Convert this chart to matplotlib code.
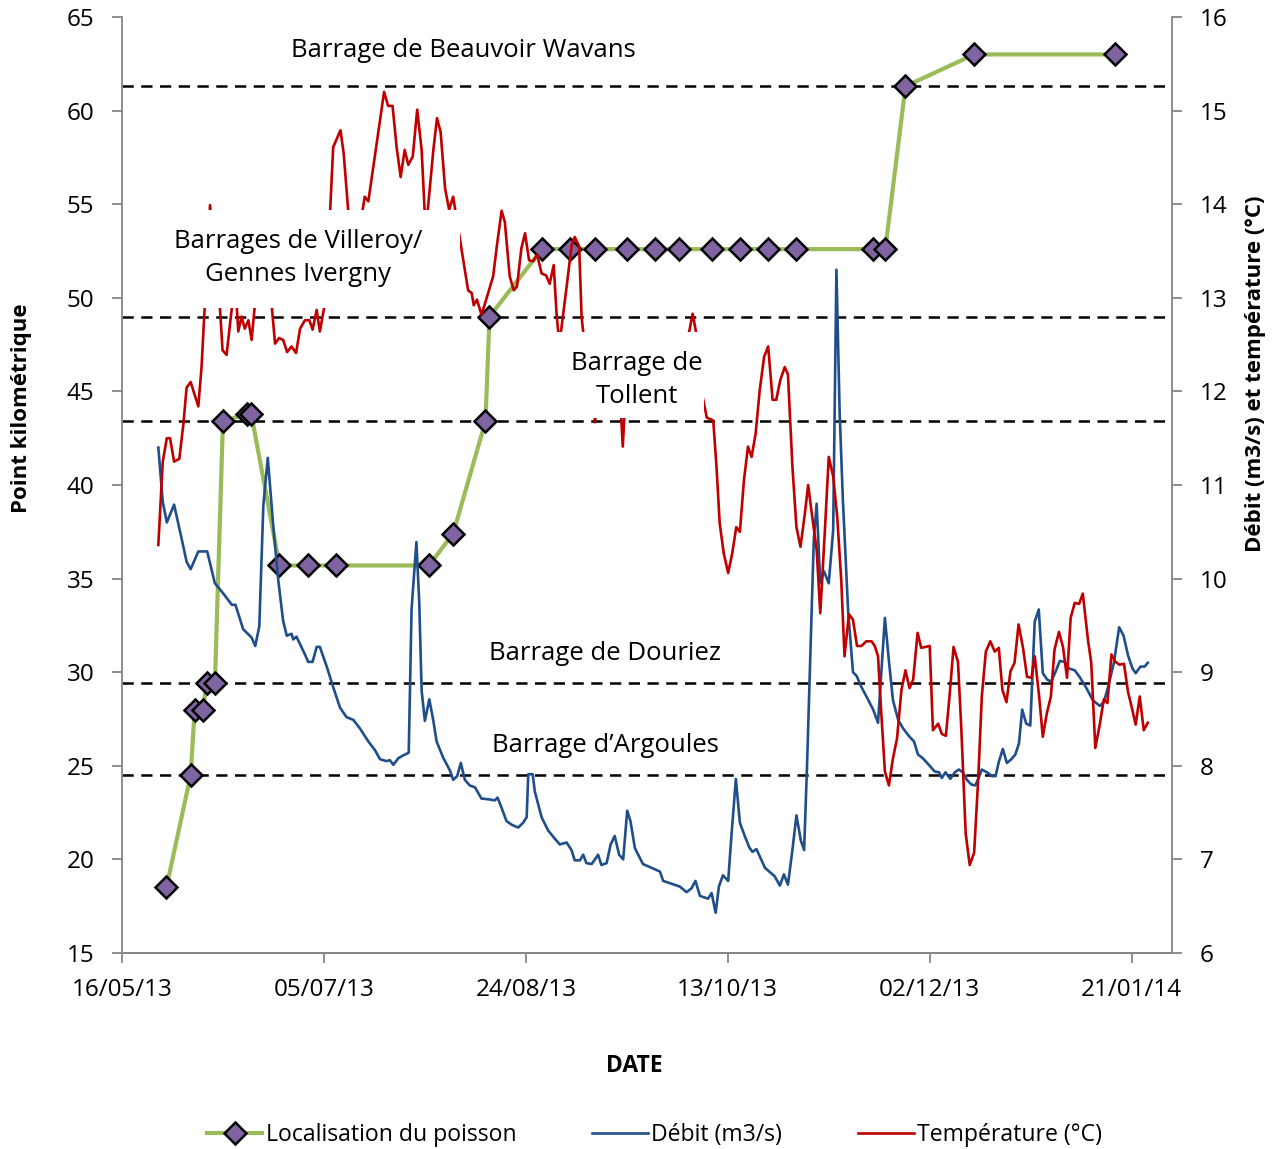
import matplotlib
matplotlib.use("Agg")
import matplotlib.pyplot as plt
import matplotlib.dates as mdates
from matplotlib.lines import Line2D
from matplotlib.patches import Rectangle
import numpy as np

plt.rcParams["font.family"] = ["Open Sans", "DejaVu Sans"]

START = "2013-05-16"

# fish position (point kilométrique)
fish_dates = [
    "2013-05-27", "2013-06-02", "2013-06-03", "2013-06-05", "2013-06-06", "2013-06-08",
    "2013-06-10", "2013-06-16", "2013-06-17", "2013-06-24", "2013-07-01", "2013-07-08",
    "2013-07-31", "2013-08-06", "2013-08-14", "2013-08-15", "2013-08-28", "2013-09-04",
    "2013-09-10", "2013-09-18", "2013-09-25", "2013-10-01", "2013-10-09", "2013-10-16",
    "2013-10-23", "2013-10-30", "2013-11-18", "2013-11-21", "2013-11-26", "2013-12-13",
    "2014-01-17",
]
fish_pk = [
    18.5, 24.5, 28.0, 28.0, 29.4, 29.4,
    43.4, 43.8, 43.8, 35.7, 35.7, 35.7,
    35.7, 37.4, 43.4, 49.0, 52.6, 52.6,
    52.6, 52.6, 52.6, 52.6, 52.6, 52.6,
    52.6, 52.6, 52.6, 52.6, 61.3, 63.0,
    63.0,
]

# flow (m3/s), days counted from 16/05/2013
debit_day = [
    9.0, 10.1, 11.1, 12.9, 14.8, 16.0, 17.0, 18.9, 21.1, 23.0, 25.1, 27.2, 28.1, 30.0,
    32.1, 33.0, 34.0, 35.0, 36.1, 37.5, 38.7, 39.9, 40.8, 42.0, 42.4, 43.2, 45.3, 46.1,
    47.2, 48.2, 49.0, 50.7, 52.3, 54.0, 55.6, 57.3, 58.9, 61.0, 62.6, 63.9, 65.5, 66.3,
    67.2, 68.4, 69.6, 71.0, 71.7, 72.9, 73.6, 74.2, 75.0, 76.1, 77.1, 77.9, 79.5, 81.2,
    82.0, 83.0, 83.9, 84.9, 86.1, 87.4, 89.0, 91.1, 92.3, 93.0, 94.0, 95.2, 96.5, 98.1,
    99.3, 100.2, 100.6, 101.7, 102.2, 103.9, 105.5, 107.2, 108.4, 110.1, 111.3, 112.1,
    113.4, 114.2, 115.0, 116.3, 117.9, 118.7, 120.0, 121.0, 122.0, 123.1, 124.1, 125.1,
    125.9, 127.0, 129.0, 133.2, 134.0, 138.1, 139.8, 141.0, 142.0, 143.1, 145.1, 146.0,
    147.0, 147.8, 148.8, 150.1, 150.9, 152.0, 153.0, 154.2, 155.3, 156.1, 157.1, 159.2,
    161.6, 162.9, 163.9, 164.9, 166.0, 167.0, 168.1, 168.9, 169.6, 170.5, 171.3, 172.0,
    172.9, 173.8, 175.0, 176.1, 176.9, 177.7, 178.5, 179.8, 181.0, 181.9, 183.1, 184.7,
    186.0, 187.2, 188.9, 189.9, 190.9, 192.2, 193.4, 195.0, 196.1, 197.1, 198.3, 200.0,
    201.2, 202.3, 203.0, 203.9, 205.1, 206.2, 207.2, 208.2, 209.2, 210.3, 211.3, 212.1,
    212.9, 214.2, 215.4, 216.3, 217.1, 218.1, 219.1, 220.2, 221.2, 222.1, 222.9, 223.9,
    224.9, 226.0, 227.0, 228.0, 229.1, 230.1, 231.2, 232.2, 233.4, 234.5, 235.9, 237.1,
    238.8, 240.4, 242.1, 243.1, 244.1, 245.6, 246.9, 248.0, 249.1, 250.2, 251.0, 252.2,
    253.2, 254.0,
]
debit = [
    11.40, 10.82, 10.60, 10.79, 10.42, 10.18, 10.10, 10.29, 10.29, 9.95, 9.84, 9.72, 9.72, 9.46,
    9.37, 9.28, 9.49, 10.78, 11.29, 10.54, 9.98, 9.55, 9.39, 9.41, 9.35, 9.38, 9.19, 9.11,
    9.11, 9.27, 9.27, 9.06, 8.84, 8.62, 8.52, 8.49, 8.40, 8.26, 8.17, 8.07, 8.05, 8.06,
    8.01, 8.08, 8.11, 8.14, 9.67, 10.39, 9.75, 8.80, 8.48, 8.71, 8.48, 8.26, 8.09, 7.95,
    7.85, 7.89, 8.03, 7.85, 7.79, 7.77, 7.65, 7.64, 7.63, 7.66, 7.55, 7.41, 7.37, 7.34,
    7.39, 7.45, 7.91, 7.91, 7.73, 7.45, 7.31, 7.22, 7.16, 7.18, 7.10, 6.99,
    6.99, 7.05, 6.96, 6.95, 7.05, 6.94, 6.96, 7.16, 7.25, 7.05, 7.00, 7.52,
    7.41, 7.12, 6.95, 6.87, 6.77, 6.71, 6.65, 6.69, 6.77, 6.61, 6.58, 6.64,
    6.43, 6.71, 6.83, 6.77, 7.25, 7.86, 7.39, 7.25, 7.13, 7.08, 7.11, 6.91,
    6.82, 6.72, 6.84, 6.73, 7.10, 7.47, 7.20, 7.10, 7.97, 9.27, 10.42, 10.80,
    9.95, 10.08, 9.95, 10.52, 13.30, 11.77, 10.84, 9.65, 9.00, 8.96, 8.84, 8.71,
    8.60, 8.46, 9.58, 9.12, 8.70, 8.49, 8.40, 8.31, 8.26, 8.12, 8.08, 8.00,
    7.94, 7.93, 7.87, 7.93, 7.86, 7.93, 7.96, 7.93, 7.85, 7.80, 7.79, 7.87,
    7.96, 7.93, 7.89, 7.89, 8.04, 8.18, 8.03, 8.07, 8.12, 8.24, 8.60, 8.45,
    8.43, 9.54, 9.67, 8.99, 8.92, 8.90, 9.01, 9.12, 9.11, 9.04, 9.02, 8.95,
    8.83, 8.70, 8.64, 8.68, 8.83, 9.10, 9.48, 9.39, 9.18, 9.04, 8.99, 9.06,
    9.06, 9.10,
]

# water temperature (°C), days counted from 16/05/2013
temp_day = [
    9.0, 10.1, 11.1, 11.9, 12.9, 14.2, 15.2, 16.0, 17.0, 18.9, 19.7, 21.8, 24.1, 24.9,
    25.9, 28.0, 28.8, 29.6, 30.4, 31.3, 32.1, 33.5, 35.5, 36.5, 37.9, 38.9, 39.9, 40.9,
    42.0, 43.1, 44.1, 45.3, 46.4, 47.2, 48.2, 49.0, 50.5, 52.3, 54.1, 54.9, 56.0, 58.0,
    60.1, 61.0, 62.6, 63.9, 64.9, 65.9, 67.0, 68.0, 69.0, 70.0, 70.9, 72.0, 73.1, 74.2,
    75.2, 77.1, 78.0, 78.9, 80.0, 81.0, 82.0, 85.7, 86.6, 87.1, 87.9, 89.0, 89.9, 91.9,
    92.9, 94.0, 94.8, 96.0, 97.0, 97.8, 98.9, 99.8, 100.8, 101.8, 102.8, 103.9, 105.0,
    105.9, 106.9, 107.6, 108.3, 110.1, 111.3, 112.1, 113.2, 113.8, 115.0, 116.5, 117.1,
    118.0, 120.0, 122.0, 123.4, 124.0, 124.6, 127.0, 130.0, 134.0, 137.0, 139.5, 140.5,
    141.3, 142.5, 143.5, 144.8, 146.4, 147.2, 148.0, 149.0, 150.1, 151.1, 152.1, 153.0,
    154.0, 155.0, 155.9, 156.9, 157.9, 159.0, 160.0, 161.1, 162.0, 163.0, 164.1, 164.9,
    166.0, 167.0, 168.0, 169.1, 169.9, 171.0, 172.0, 172.9, 174.0, 175.0, 176.1, 177.1,
    178.1, 178.9, 180.0, 181.0, 182.0, 183.1, 184.3, 185.6, 186.4, 187.2, 187.9, 188.9,
    189.9, 190.9, 191.9, 193.0, 194.0, 195.0, 195.9, 197.0, 197.9, 200.0, 200.8, 202.1,
    203.0, 204.0, 204.9, 205.9, 207.0, 207.8, 208.9, 209.9, 211.0, 212.0, 212.9, 213.9,
    215.0, 216.1, 217.1, 218.0, 219.0, 220.0, 221.0, 222.0, 223.1, 224.1, 225.2, 226.0,
    227.1, 228.0, 229.0, 230.0, 230.9, 232.0, 233.0, 234.0, 234.9, 235.9, 237.0, 237.9,
    239.2, 240.0, 241.0, 242.1, 243.1, 244.0, 245.0, 246.0, 247.0, 248.1, 249.1, 250.1,
    251.0, 252.0, 253.0, 254.0,
]
temperature = [
    10.36, 11.25, 11.50, 11.50, 11.25, 11.28, 11.65, 12.04, 12.10, 11.84, 12.26, 13.99, 13.00, 12.44,
    12.39, 13.20, 12.64, 12.80, 12.67, 12.76, 12.55, 13.20, 13.50, 13.20, 12.51, 12.57, 12.55, 12.42,
    12.48, 12.41, 12.67, 12.76, 12.76, 12.66, 12.87, 12.64, 13.00, 14.61, 14.79, 14.54, 13.94, 13.50,
    14.08, 14.03, 14.51, 14.90, 15.20, 15.05, 15.05, 14.61, 14.29, 14.58, 14.42, 14.51, 15.01, 14.58,
    13.70, 14.58, 14.92, 14.77, 14.17, 13.94, 14.08, 13.08, 13.05, 12.92, 12.98, 12.82, 12.94, 13.23,
    13.58, 13.93, 13.81, 13.23, 13.08, 13.12, 13.53, 13.69, 13.40, 13.39, 13.46, 13.26, 13.24,
    13.15, 13.35, 12.83, 12.50, 13.12, 13.55, 13.65, 13.55, 12.80, 12.30, 12.00, 11.67,
    12.00, 12.20, 12.00, 11.90, 11.41, 11.90, 12.10, 12.30, 12.20, 12.40, 12.50, 12.65,
    12.83, 12.55, 12.00, 11.72, 11.69, 11.20, 10.59, 10.27, 10.06, 10.27, 10.55, 10.50,
    11.05, 11.41, 11.30, 11.55, 12.01, 12.37, 12.48, 11.91, 11.91, 12.12, 12.26, 12.18,
    11.20, 10.55, 10.34, 10.70, 11.00, 10.63, 10.31, 9.63, 10.48, 11.30, 11.09, 10.66,
    9.98, 9.17, 9.62, 9.56, 9.28, 9.28, 9.33, 9.33, 9.28, 9.17, 8.64, 7.94,
    7.79, 8.08, 8.29, 8.81, 9.02, 8.83, 8.92, 9.42, 9.26, 9.28, 8.38, 8.45,
    8.34, 8.32, 8.74, 9.27, 9.11, 8.42, 7.28, 6.94, 7.07, 7.85, 8.74, 9.22,
    9.33, 9.22, 9.26, 8.81, 8.68, 9.01, 9.10, 9.51, 9.26, 8.95, 8.94, 9.17,
    8.74, 8.31, 8.56, 8.74, 9.24, 9.43, 9.27, 8.94, 9.58, 9.74, 9.73, 9.84,
    9.34, 9.10, 8.19, 8.44, 8.71, 8.67, 9.19, 9.11, 9.08, 9.09, 8.79, 8.61,
    8.44, 8.74, 8.38, 8.46,
]

# dams (point kilométrique) and their labels
dam_pk = [61.3, 49.0, 43.4, 29.4, 24.5]
dam_labels = [
    "Barrage de Beauvoir Wavans",
    "Barrages de Villeroy/\nGennes Ivergny",
    "Barrage de\nTollent",
    "Barrage de Douriez",
    "Barrage d\u2019Argoules",
]

GREEN = "#9BBB59"
PURPLE = "#8064A2"
BLUE = "#1F4E8A"
RED = "#C00000"
GREY = "#868686"

t0 = mdates.datestr2num(START)
fish_x = [mdates.datestr2num(d) for d in fish_dates]
debit_x = t0 + np.array(debit_day)
temp_x = t0 + np.array(temp_day)

fig = plt.figure(figsize=(12.84, 11.49), dpi=100)
ax = fig.add_axes([0.0950, 0.1706, 0.8178, 0.8146])
ax2 = ax.twinx()

# left axis: fish position and dams
for pk in dam_pk:
    ax.axhline(pk, color="black", lw=1.8, ls=(0, (4.5, 3)), zorder=1)
ax.plot(fish_x, fish_pk, color=GREEN, lw=3, marker="D", markersize=11,
        markerfacecolor=PURPLE, markeredgecolor="black", markeredgewidth=1.8, zorder=3)

# right axis: flow and temperature
ax2.plot(debit_x, debit, color=BLUE, lw=1.9, zorder=2)
ax2.plot(temp_x, temperature, color=RED, lw=1.9, zorder=2)

# white text boxes that mask the lines (as in the original)
ax2.add_patch(Rectangle((0.041, 0.689), 0.281, 0.105, transform=ax2.transAxes,
                        facecolor="white", edgecolor="none", zorder=4))
ax2.add_patch(Rectangle((0.412, 0.572), 0.142, 0.091, transform=ax2.transAxes,
                        facecolor="white", edgecolor="none", zorder=4))

label_pos = [(0.3248, 0.9647), (0.1676, 0.7425), (0.4905, 0.6122), (0.460, 0.3205), (0.460, 0.2222)]
for (lx, ly), txt in zip(label_pos, dam_labels):
    ax2.text(lx, ly, txt, transform=ax2.transAxes, ha="center", va="center",
             fontsize=18.5, linespacing=1.38, zorder=5)

# axes limits / ticks
ax.set_xlim(t0, t0 + 260)
ax.set_ylim(15, 65)
ax2.set_ylim(6, 16)
ax.set_yticks(np.arange(15, 66, 5))
ax2.set_yticks(np.arange(6, 17, 1))
ax.set_xticks(t0 + np.arange(0, 251, 50))
ax.xaxis.set_major_formatter(mdates.DateFormatter("%d/%m/%y"))

for a in (ax, ax2):
    a.spines["top"].set_visible(False)
    for s in a.spines.values():
        s.set_color(GREY)
        s.set_linewidth(1.3)
ax.spines["right"].set_visible(False)
ax2.spines["left"].set_visible(False)

ax.tick_params(axis="both", direction="out", length=7, width=1.3, color=GREY,
               labelsize=17.5, pad=13)
ax.tick_params(axis="x", pad=11)
ax2.tick_params(axis="y", direction="out", length=7, width=1.3, color=GREY,
                labelsize=17.5, pad=13)

fig.text(0.0171, 0.6449, "Point kilom\u00e9trique", rotation=90, ha="center", va="center",
         fontsize=16, fontweight="bold")
fig.text(0.978, 0.6745, "D\u00e9bit (m3/s) et temp\u00e9rature (\u00b0C)", rotation=90,
         ha="center", va="center", fontsize=16, fontweight="bold")
fig.text(0.4938, 0.0722, "DATE", ha="center", va="center", fontsize=16.5, fontweight="bold")

handles = [
    Line2D([], [], color=GREEN, lw=3, marker="D", markersize=11, markerfacecolor=PURPLE,
           markeredgecolor="black", markeredgewidth=1.8),
    Line2D([], [], color=BLUE, lw=1.9),
    Line2D([], [], color=RED, lw=1.9),
]
fig.legend(handles, ["Localisation du poisson", "D\u00e9bit (m3/s)", "Temp\u00e9rature (\u00b0C)"],
           loc="center", bbox_to_anchor=(0.5097, 0.0122), ncol=3, frameon=False,
           fontsize=16.6, handlelength=2.4, handletextpad=0.15, columnspacing=3.3)

fig.savefig("out.png", dpi=100)
